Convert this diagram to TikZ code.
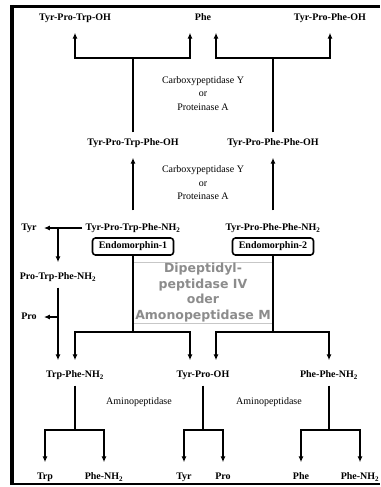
\documentclass[tikz,border=0pt]{standalone}
\usepackage{fontspec}
\setmainfont{Liberation Serif}
\newfontfamily\dppfont{DejaVu Sans}
\usetikzlibrary{arrows.meta, positioning, calc}

\begin{document}
\begin{tikzpicture}[
    x=1pt, y=-1pt,
    font=\fontsize{10}{12}\selectfont,
    % Define styles
    pep/.style={
        font=\fontsize{10}{12}\selectfont\bfseries,
        text height=7pt,
        text depth=2pt,
        inner xsep=3pt,
        inner ysep=6pt
    },
    enzyme/.style={
        align=center,
        font=\fontsize{10}{13.5}\selectfont
    },
    endo/.style={
        rectangle,
        rounded corners=3pt,
        draw=black,
        line width=1.6pt,
        font=\fontsize{10}{12}\selectfont\bfseries,
        minimum width=81pt,
        minimum height=17pt,
        inner sep=2pt
    },
    dpp/.style={
        rectangle,
        draw=black!22,
        fill=white,
        line width=0.8pt,
        text=black!45,
        align=center,
        font=\dppfont\bfseries\fontsize{12.5}{15.5}\selectfont,
        minimum width=140pt,
        minimum height=61pt,
        inner sep=0pt
    },
    line/.style={
        draw,
        -{Latex[length=6pt,width=5pt]},
        line width=1.8pt,
        shorten >=4pt
    },
    trunk/.style={
        line width=2pt
    },
    pageframe/.style={
        draw,
        line width=4pt
    }
]
\useasboundingbox (0,0) rectangle (380,487);

% Frame
\path[pageframe] (12,5) -- (12,484.5);
\path[pageframe, line width=3.5pt] (10,6.5) -- (380,6.5);
\path[pageframe, line width=2pt] (10,483.5) -- (380,483.5);

% Place nodes
% Top row: products of the second cleavage
\node[pep] (tpto) at (75,18) {Tyr-Pro-Trp-OH};
\node[pep] (phe) at (203,18) {Phe};
\node[pep] (tppo) at (330,18) {Tyr-Pro-Phe-OH};
\node[enzyme] (cpy1) at (203,93.5) {Carboxypeptidase Y\\or\\Proteinase A};

% Acids
\node[pep] (tptpo) at (133,143) {Tyr-Pro-Trp-Phe-OH};
\node[pep] (tpppo) at (273,143) {Tyr-Pro-Phe-Phe-OH};
\node[enzyme] (cpy2) at (203,183) {Carboxypeptidase Y\\or\\Proteinase A};

% Endomorphins
\node[pep] (tptpn) at (133,228) {Tyr-Pro-Trp-Phe-NH\textsubscript{2}};
\node[pep] (tpppn) at (273,228) {Tyr-Pro-Phe-Phe-NH\textsubscript{2}};
\node[endo] (endo1) at (133,246.5) {Endomorphin-1};
\node[endo] (endo2) at (273,246.5) {Endomorphin-2};
\node[dpp] (dpp) at (203,292.5) {Dipeptidyl-\\peptidase IV\\oder\\Amonopeptidase M};

% Left side chain
\node[pep] (tyr1) at (29,228) {Tyr};
\node[pep] (ptpn) at (58,277) {Pro-Trp-Phe-NH\textsubscript{2}};
\node[pep] (pro1) at (29,317) {Pro};

% Fragments
\node[pep] (tpn) at (75,375) {Trp-Phe-NH\textsubscript{2}};
\node[pep] (tpoh) at (203,375) {Tyr-Pro-OH};
\node[pep] (ppn) at (329,375) {Phe-Phe-NH\textsubscript{2}};
\node[enzyme] (amp1) at (139,402) {Aminopeptidase};
\node[enzyme] (amp2) at (269,402) {Aminopeptidase};

% Bottom row: amino acids
\node[pep] (trp) at (45,477) {Trp};
\node[pep] (phn1) at (104,477) {Phe-NH\textsubscript{2}};
\node[pep] (tyr2) at (184,477) {Tyr};
\node[pep] (pro2) at (223,477) {Pro};
\node[pep] (phe2) at (301,477) {Phe};
\node[pep] (phn2) at (360,477) {Phe-NH\textsubscript{2}};

% Junctions
\coordinate (f1) at (133,58);
\coordinate (f2) at (273,58);
\coordinate (j1) at (58,228);
\coordinate (j2) at (58,317);
\coordinate (f3) at (133,332);
\coordinate (f4) at (273,332);
\coordinate (f5) at (75,430);
\coordinate (f6) at (203,430);
\coordinate (f7) at (329,430);

% Draw edges
% Top forks
\draw[trunk] (tptpo.north) -- (f1);
\path[line] (f1) -| (tpto);
\path[line] (f1) -| ([xshift=-13pt]phe.south);
\draw[trunk] (tpppo.north) -- (f2);
\path[line] (f2) -| ([xshift=13pt]phe.south);
\path[line] (f2) -| (tppo);

% Amides to acids
\path[line, shorten <=7pt] (tptpn) -- (tptpo);
\path[line, shorten <=7pt] (tpppn) -- (tpppo);

% Side chain
\path[line] (tptpn) -- (tyr1);
\path[line] (j1) -- (ptpn);
\path[line] (ptpn) -- (ptpn |- tpn.north);
\path[line] (j2) -- (pro1);

% Endomorphin forks
\draw[trunk] (endo1.south) -- (f3);
\path[line] (f3) -| (tpn);
\path[line] (f3) -| ([xshift=-13pt]tpoh.north);
\draw[trunk] (endo2.south) -- (f4);
\path[line] (f4) -| ([xshift=13pt]tpoh.north);
\path[line] (f4) -| (ppn);

% Aminopeptidase forks
\draw[trunk] (tpn.south) -- (f5);
\path[line] (f5) -| (trp);
\path[line] (f5) -| (phn1);
\draw[trunk] (tpoh.south) -- (f6);
\path[line] (f6) -| (tyr2);
\path[line] (f6) -| (pro2);
\draw[trunk] (ppn.south) -- (f7);
\path[line] (f7) -| (phe2);
\path[line] (f7) -| (phn2);

\end{tikzpicture}
\end{document}
